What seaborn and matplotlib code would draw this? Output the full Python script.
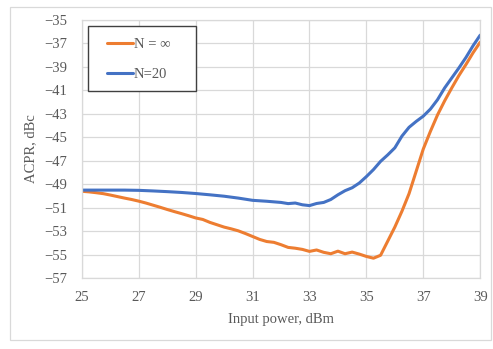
import seaborn as sns
import matplotlib.pyplot as plt
import matplotlib.patches as mpatches
import pandas as pd

# ACPR vs input power
power_inf = [25.0, 25.25, 25.5, 25.75, 26.0, 26.25, 26.5, 26.75, 27.0, 27.25, 27.5, 27.75,
             28.0, 28.25, 28.5, 28.75, 29.0, 29.25, 29.5, 29.75, 30.0, 30.25, 30.5, 30.75,
             31.0, 31.25, 31.5, 31.75, 32.0, 32.25, 32.5, 32.75, 33.0, 33.25, 33.5, 33.75,
             34.0, 34.25, 34.5, 34.75, 35.0, 35.25, 35.5, 35.75, 36.0, 36.25, 36.5, 36.75,
             37.0, 37.25, 37.5, 37.75, 38.0, 38.25, 38.5, 38.75, 39.0]
acpr_inf = [-49.60, -49.65, -49.72, -49.80, -49.92, -50.05, -50.18, -50.30, -50.44, -50.60,
            -50.78, -50.96, -51.15, -51.33, -51.50, -51.68, -51.87, -52.00, -52.25, -52.45,
            -52.65, -52.80, -52.97, -53.20, -53.45, -53.70, -53.88, -53.95, -54.15, -54.38,
            -54.45, -54.55, -54.72, -54.60, -54.80, -54.92, -54.70, -54.92, -54.78, -54.95,
            -55.15, -55.30, -55.05, -53.85, -52.65, -51.30, -49.80, -47.90, -46.00, -44.50,
            -43.10, -41.90, -40.80, -39.75, -38.80, -37.80, -36.90]

power_20 = [25.0, 25.5, 26.0, 26.5, 27.0, 27.5, 28.0, 28.5, 29.0, 29.5, 30.0, 30.5, 31.0,
            31.5, 32.0, 32.25, 32.5, 32.75, 33.0, 33.25, 33.5, 33.75, 34.0, 34.25, 34.5,
            34.75, 35.0, 35.25, 35.5, 35.75, 36.0, 36.25, 36.5, 36.75, 37.0, 37.25, 37.5,
            37.75, 38.0, 38.25, 38.5, 38.75, 39.0]
acpr_20 = [-49.50, -49.50, -49.50, -49.50, -49.52, -49.57, -49.63, -49.70, -49.79, -49.90,
           -50.02, -50.18, -50.37, -50.45, -50.55, -50.65, -50.60, -50.75, -50.82, -50.64,
           -50.55, -50.30, -49.90, -49.55, -49.30, -48.90, -48.35, -47.75, -47.05, -46.50,
           -45.90, -44.90, -44.15, -43.65, -43.20, -42.60, -41.80, -40.80, -39.95, -39.10,
           -38.20, -37.20, -36.30]

series_labels = ["N = \u221e", "N=20"]
series_colors = ["#ED7D31", "#4472C4"]
x_ticks = [25, 27, 29, 31, 33, 35, 37, 39]
y_ticks = [-57, -55, -53, -51, -49, -47, -45, -43, -41, -39, -37, -35]

df = pd.concat([
    pd.DataFrame({"power": power_inf, "acpr": acpr_inf, "series": series_labels[0]}),
    pd.DataFrame({"power": power_20, "acpr": acpr_20, "series": series_labels[1]}),
], ignore_index=True)

sns.set_theme(style="whitegrid")
plt.rcParams['font.family'] = ['Liberation Serif', 'DejaVu Serif']
grey_txt = "#595959"
grid_col = "#D9D9D9"

fig = plt.figure(figsize=(4.93, 3.49), dpi=100)
ax = fig.add_axes([0.166, 0.203, 0.808, 0.740])
sns.lineplot(data=df, x="power", y="acpr", hue="series", hue_order=series_labels,
             palette=series_colors, estimator=None, linewidth=2.2, ax=ax)

ax.set_xlim(25, 39)
ax.set_ylim(-57, -35)
ax.set_xticks(x_ticks)
ax.set_yticks(y_ticks)
ax.grid(True, color=grid_col, linewidth=0.9)
for sp in ax.spines.values():
    sp.set_color(grid_col)
    sp.set_linewidth(0.9)
ax.tick_params(axis="both", length=0, labelsize=10.5, colors=grey_txt)
ax.tick_params(axis="y", pad=10.5)
ax.tick_params(axis="x", pad=9)
ax.set_xlabel("Input power, dBm", fontsize=10.5, color=grey_txt, labelpad=7)
ax.set_ylabel("ACPR, dBc", fontsize=10.5, color=grey_txt, labelpad=5)

# legend, with its own box like the Excel one
leg = ax.legend(loc="upper left", bbox_to_anchor=(0.063, 0.932), frameon=False,
                fontsize=10.5, handlelength=1.8, handletextpad=0.05,
                labelspacing=1.15, borderpad=0, borderaxespad=0)
for t in leg.get_texts():
    t.set_color(grey_txt)
box = mpatches.Rectangle((0.015, 0.725), 0.271, 0.252, transform=ax.transAxes,
                         fill=True, facecolor="white", edgecolor="#404040",
                         linewidth=1.0, zorder=4)
ax.add_patch(box)
leg.set_zorder(5)

# outer chart frame
fig.patches.append(mpatches.Rectangle((0.02, 0.026), 0.975, 0.955, transform=fig.transFigure,
                                      fill=False, edgecolor="#D9D9D9", linewidth=0.9))

fig.savefig("out.png", dpi=100)
